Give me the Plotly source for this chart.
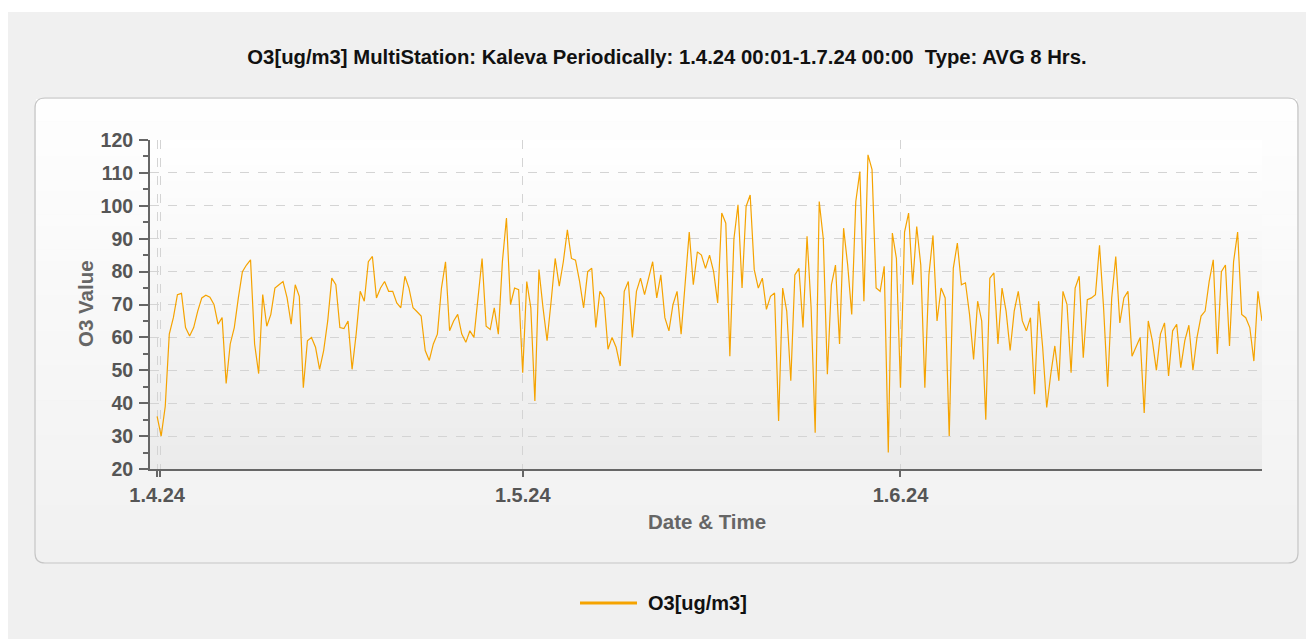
import pandas as pd
import plotly.graph_objects as go

# ---------------- data ----------------
series_name = "O3[ug/m3]"
start_time = "2024-04-01 00:00"
step = "8h"
o3_values = [
    36, 30, 39, 61, 66, 73, 73.4, 63, 60.4, 63,
    68, 72, 72.8, 72.2, 70, 64, 66, 46, 58, 63,
    72, 80, 82, 83.6, 58, 49, 73, 63.4, 67, 75,
    76, 77, 72, 64, 76, 72.5, 44.7, 59, 60, 57,
    50.3, 56, 65, 78, 76, 63, 62.7, 65, 50.3, 61,
    74, 71, 83, 84.6, 72, 75, 77, 74, 74, 70.5,
    69, 78.6, 75, 69, 67.8, 66.5, 56, 53, 58, 61,
    75, 83, 62, 65, 67, 61, 58.5, 62, 60, 72,
    84, 63.4, 62.4, 69, 61, 83, 96.3, 70, 75, 74.5,
    49.3, 77, 69, 40.7, 80.6, 69, 59, 71, 84, 75.6,
    83, 92.7, 84, 83.5, 77, 69, 80, 81, 63, 74,
    72, 56.4, 60, 57, 51.3, 74, 77, 60, 74, 78,
    73, 78, 83, 72, 79, 66, 62, 70, 74, 61,
    78, 92, 76, 86, 85, 81, 85, 80, 70.5, 97.8,
    94.7, 54.3, 90, 100.3, 75, 99.8, 103.3, 80.6, 75, 78,
    68.5, 72.5, 73.5, 34.6, 75, 68, 46.8, 79, 81, 63,
    90.7, 69, 31, 101.3, 90, 48.8, 76, 82, 58, 93.2,
    82, 67, 101.3, 110.4, 71, 115.5, 111, 75, 74, 81.6,
    25, 91.7, 84, 44.7, 92, 97.8, 76, 93.7, 82, 44.7,
    79, 91, 65, 75, 72, 30, 81, 88.7, 76, 76.6,
    67, 53.3, 71, 65, 35, 78, 79.6, 58, 75, 68,
    56, 68, 74, 65, 62, 66, 42.7, 71, 57, 38.7,
    48.8, 57.4, 46.8, 74, 70, 49.3, 75, 78.6, 53.8, 71.5,
    72, 73, 88, 69, 45, 72, 84.6, 64.4, 72, 74,
    54.3, 57, 60, 37, 65, 59, 50, 61, 64.4, 48.3,
    62, 64, 50.8, 59, 63.7, 50, 60, 66.5, 68, 77,
    83.6, 55, 80, 82, 57.4, 83, 92, 67, 66, 63,
    52.8, 74, 65,
]
x_tick_dates = ["2024-04-01 00:00", "2024-04-01 06:00", "2024-05-01 00:00", "2024-06-01 00:00"]
x_tick_labels = ["1.4.24", "", "1.5.24", "1.6.24"]
y_tick_values = [20, 30, 40, 50, 60, 70, 80, 90, 100, 110, 120]

title_text = ("O3[ug/m3] MultiStation: Kaleva Periodically: 1.4.24 00:01-1.7.24 00:00"
              "&nbsp;&nbsp;Type: AVG 8 Hrs.")

times = pd.date_range(start_time, periods=len(o3_values), freq=step)

# ---------------- geometry / style (figure pixel coords; page has 8px body margin) ----------------
W, H = 1314, 639
PL, PR, PT, PB = 142, 1254, 132, 461  # plot area in figure pixels
LINE_COLOR = "#F5A300"
FONT = "Liberation Sans, Arial, sans-serif"


def px(xp):
    return (xp - PL) / (PR - PL)


def py(yp):
    return (PB - yp) / (PB - PT)


def mix(c0, c1, t):
    return "rgb(%d,%d,%d)" % tuple(round(a + (b - a) * t) for a, b in zip(c0, c1))


shapes = []
# grey page background (thin white strip at the very top)
shapes.append(dict(type="rect", xref="paper", yref="paper", x0=px(-2), x1=px(W + 5),
                   y0=py(H + 5), y1=py(4), fillcolor="#f0f0f0", line_width=0, layer="below"))

# rounded frame with vertical gradient
fx0, fx1, fy0, fy1 = 27, 1290, 90, 555
n = 40
for k in range(n):
    ya = fy0 + (fy1 - fy0) * k / n
    yb = fy0 + (fy1 - fy0) * (k + 1) / n + 0.6
    shapes.append(dict(type="rect", xref="paper", yref="paper",
                       x0=px(fx0 + 1), x1=px(fx1 - 1), y0=py(min(yb, fy1 - 1)), y1=py(max(ya, fy0 + 1)),
                       fillcolor=mix((254, 254, 254), (241, 241, 241), k / (n - 1)),
                       line_width=0, layer="below"))
r = 10


def P(x, y):
    return "%.5f,%.5f" % (px(x), py(y))


path = ("M " + P(fx0 + r, fy0) + " L " + P(fx1 - r, fy0) + " Q " + P(fx1, fy0) + " " + P(fx1, fy0 + r) +
        " L " + P(fx1, fy1 - r) + " Q " + P(fx1, fy1) + " " + P(fx1 - r, fy1) +
        " L " + P(fx0 + r, fy1) + " Q " + P(fx0, fy1) + " " + P(fx0, fy1 - r) +
        " L " + P(fx0, fy0 + r) + " Q " + P(fx0, fy0) + " " + P(fx0 + r, fy0) + " Z")
shapes.append(dict(type="path", xref="paper", yref="paper", path=path,
                   line=dict(color="#c6c6c6", width=1.2), fillcolor="rgba(0,0,0,0)", layer="below"))

# plot-area gradient
n2 = 40
for k in range(n2):
    shapes.append(dict(type="rect", xref="paper", yref="paper", x0=0, x1=1,
                       y0=1 - (k + 1) / n2 - 0.002, y1=1 - k / n2,
                       fillcolor=mix((255, 255, 255), (235, 235, 235), k / (n2 - 1)),
                       line_width=0, layer="below"))

# legend sample line
shapes.append(dict(type="line", xref="paper", yref="paper", x0=px(572), x1=px(629),
                   y0=py(595), y1=py(595), line=dict(color=LINE_COLOR, width=3)))

annotations = [
    dict(text="O3 Value", xref="paper", yref="paper", x=px(77), y=py(296), textangle=-90,
         showarrow=False, xanchor="center", yanchor="middle",
         font=dict(family=FONT, size=20.5, color="#666666", weight="bold")),
    dict(text="Date & Time", xref="paper", yref="paper", x=px(699), y=py(513),
         showarrow=False, xanchor="center", yanchor="middle",
         font=dict(family=FONT, size=20.5, color="#666666", weight="bold")),
    dict(text=series_name, xref="paper", yref="paper", x=px(638), y=py(595),
         showarrow=False, xanchor="left", yanchor="middle",
         font=dict(family=FONT, size=20, color="#111111", weight="bold")),
]

fig = go.Figure()
fig.add_trace(go.Scatter(x=times, y=o3_values, mode="lines", name=series_name,
                         line=dict(color=LINE_COLOR, width=1.2), showlegend=False))

t0 = pd.Timestamp(start_time)
x_range = [t0 - pd.Timedelta(hours=14), times[-1]]

fig.update_layout(
    width=W, height=H, autosize=False,
    margin=dict(l=PL, r=W - PR, t=PT, b=H - PB, pad=0),
    paper_bgcolor="#ffffff", plot_bgcolor="rgba(0,0,0,0)",
    title=dict(text=title_text, x=659 / W, y=1 - 49 / H, xref="container", yref="container",
               xanchor="center", yanchor="middle",
               font=dict(family=FONT, size=20.3, color="#111111", weight="bold")),
    shapes=shapes, annotations=annotations,
    showlegend=False,
    xaxis=dict(range=x_range, tickmode="array", tickvals=pd.to_datetime(x_tick_dates),
               ticktext=x_tick_labels, showgrid=True, gridcolor="#d4d4d4", griddash="dash",
               gridwidth=1, ticks="outside", ticklen=6, tickwidth=2, tickcolor="#666666",
               showline=True, linecolor="#666666", linewidth=2, zeroline=False,
               ticklabelstandoff=1,
               tickfont=dict(family=FONT, size=20, color="#555555", weight="bold")),
    yaxis=dict(range=[20, 120], tickmode="array", tickvals=y_tick_values,
               showgrid=True, gridcolor="#d4d4d4", griddash="dash", gridwidth=1,
               ticks="outside", ticklen=9, tickwidth=2, tickcolor="#666666",
               minor=dict(dtick=5, ticklen=5, tickwidth=2, tickcolor="#666666", showgrid=False,
                          ticks="outside"),
               showline=True, linecolor="#666666", linewidth=2, zeroline=False,
               ticklabelstandoff=2,
               tickfont=dict(family=FONT, size=19.5, color="#555555", weight="bold")),
)

fig.write_html("out.html")
